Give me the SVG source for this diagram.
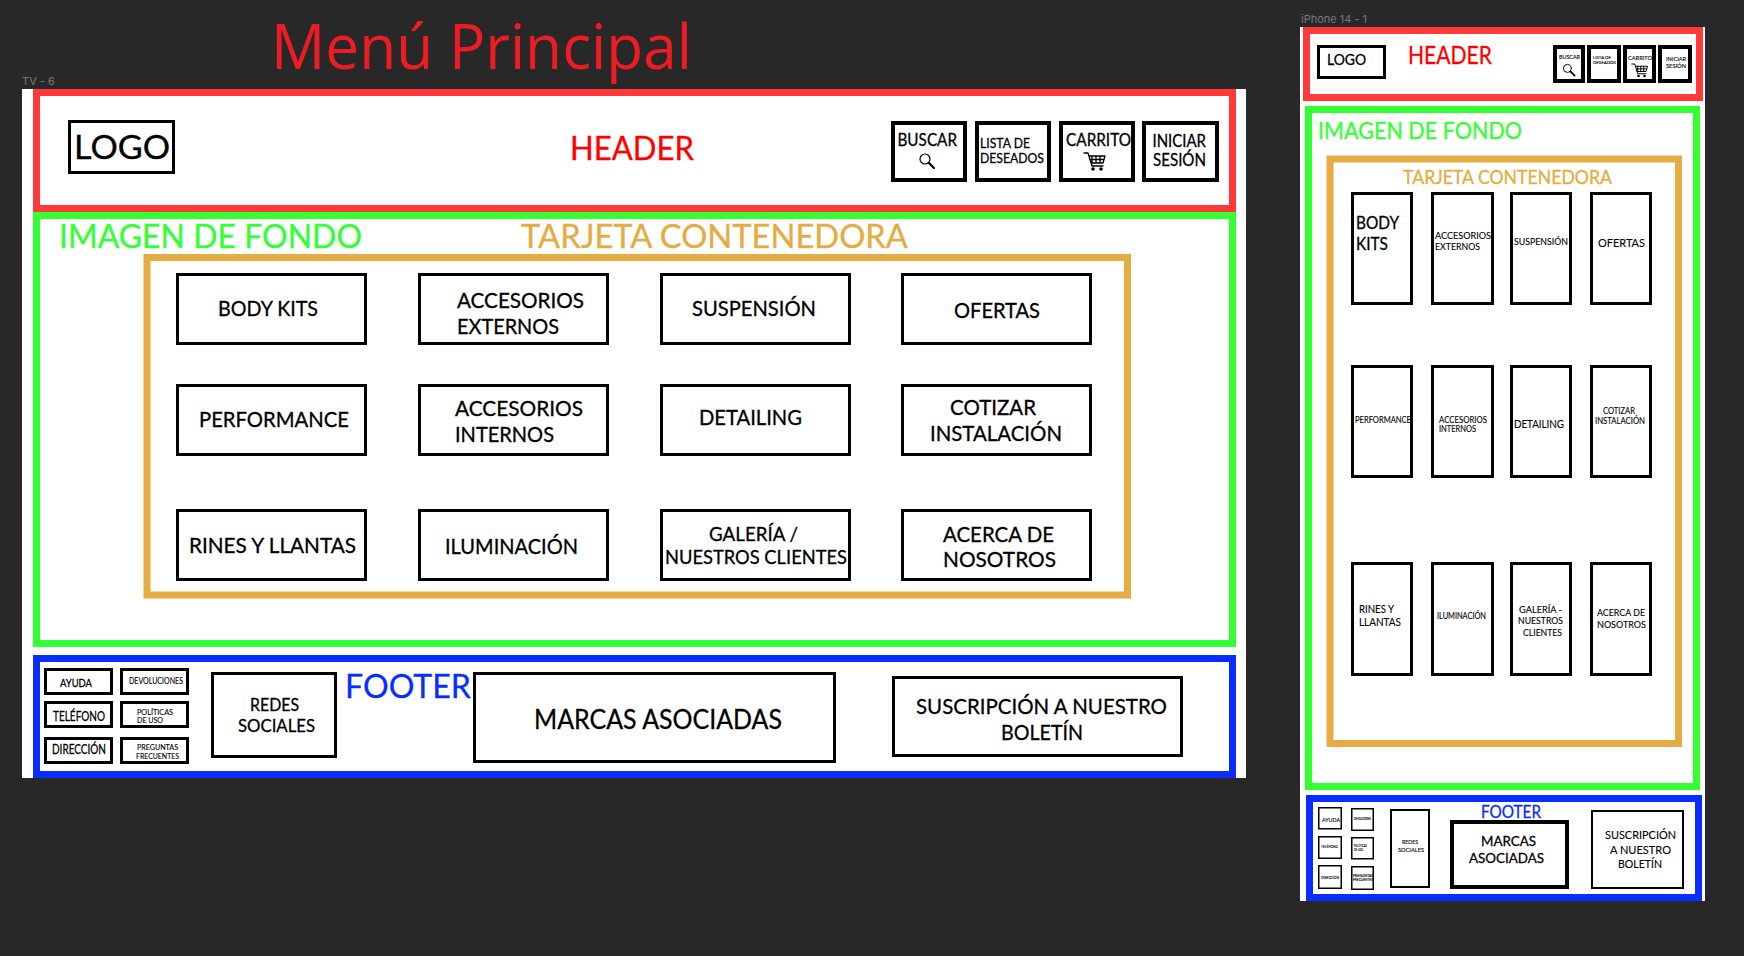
<svg xmlns="http://www.w3.org/2000/svg" width="1744" height="956" viewBox="0 0 1744 956">
<style>
text{font-family:"Lato","Liberation Sans",sans-serif;fill:#000;stroke:#000;stroke-width:.3}
.b{fill:#fff;stroke:#000;stroke-width:3}
.t{stroke-width:4}.n{stroke-width:2}.h{stroke-width:1.5}
.z{fill:none;stroke-width:7}
.red{stroke:#ff3939}.grn{stroke:#33ff33}.blu{stroke:#0a2dff}.gld{stroke:#e4ac43}
text.fr{fill:#ff0000;stroke:#ff0000}text.fg{fill:#33ff33;stroke:#33ff33}text.fb{fill:#0a2dff;stroke:#0a2dff}text.fo{fill:#e4ac43;stroke:#e4ac43}
text.s{stroke-width:.12}
.ic{fill:none;stroke:#000;stroke-linecap:round;stroke-linejoin:round}
text.cap{fill:#777;stroke:none;font-family:"Inter","Liberation Sans",sans-serif;font-size:11px}
text.ttl{font-family:"Open Sans","Liberation Sans",sans-serif;fill:#ed1c24;stroke:none}
</style>
<defs>
<g id="lens"><circle cx="-2" cy="-2" r="5" class="ic" stroke-width="1.2"/><line x1="2" y1="2" x2="7" y2="7" class="ic" stroke-width="2.2"/></g>
<g id="cart"><path class="ic" stroke-width="1.3" d="M-11-8H-7L-3 5H8M-6-5H10L8 2H-4M-3-5V2M1-5V2M5-5V2M-5-1.500H9"/><circle cx="-2" cy="8" r="1.800"/><circle cx="6" cy="8" r="1.800"/></g>
</defs>
<rect width="1744" height="956" fill="#282828"/>
<text id="title" class="ttl" x="271" y="69" font-size="62" textLength="421" lengthAdjust="spacingAndGlyphs">Menú Principal</text>
<text class="cap" x="22" y="85" textLength="33" lengthAdjust="spacingAndGlyphs">TV - 6</text>
<text class="cap" x="1301" y="23" textLength="66" lengthAdjust="spacingAndGlyphs">iPhone 14 - 1</text>

<g id="tv">
<rect x="22" y="89" width="1224" height="689" fill="#fff"/>
<g id="tv-header"><rect class="z red" x="36.500" y="92.500" width="1196" height="116"/>
<text class="fr" x="570" y="160" font-size="33" textLength="124" lengthAdjust="spacingAndGlyphs">HEADER</text></g>
<g id="tv-logo"><rect class="b" x="69.500" y="121.500" width="104" height="51"/><text x="74" y="159" font-size="32" textLength="96" lengthAdjust="spacingAndGlyphs">LOGO</text></g>
<g id="tv-buscar"><rect class="b t" x="893" y="123" width="72" height="57"/><text x="897.500" y="146" font-size="17" textLength="59.500" lengthAdjust="spacingAndGlyphs">BUSCAR</text><use href="#lens" x="927" y="161"/></g>
<g id="tv-lista"><rect class="b t" x="977" y="123" width="72" height="57"/><text x="980" y="148" font-size="14" textLength="50" lengthAdjust="spacingAndGlyphs">LISTA DE</text><text x="980" y="163" font-size="14" textLength="64" lengthAdjust="spacingAndGlyphs">DESEADOS</text></g>
<g id="tv-carrito"><rect class="b t" x="1061" y="123" width="72" height="57"/><text x="1066" y="146" font-size="17" textLength="65" lengthAdjust="spacingAndGlyphs">CARRITO</text><use href="#cart" x="1095" y="161"/></g>
<g id="tv-iniciar"><rect class="b t" x="1144" y="123" width="73" height="57"/><text x="1152.500" y="147" font-size="18" textLength="53.500" lengthAdjust="spacingAndGlyphs">INICIAR</text><text x="1153" y="166" font-size="18" textLength="53" lengthAdjust="spacingAndGlyphs">SESIÓN</text></g>

<g id="tv-fondo"><rect class="z grn" x="36.500" y="215.500" width="1196" height="428"/>
<text class="fg" x="59" y="248" font-size="32" textLength="303" lengthAdjust="spacingAndGlyphs">IMAGEN DE FONDO</text></g>
<g id="tv-tarjeta"><rect class="z gld" x="147" y="257.500" width="980.500" height="337.500"/>
<text class="fo" x="521" y="248" font-size="32" textLength="387" lengthAdjust="spacingAndGlyphs">TARJETA CONTENEDORA</text></g>

<g id="tv-body"><rect class="b" x="177.500" y="274.500" width="188" height="69"/><text x="218" y="316" font-size="21" textLength="100" lengthAdjust="spacingAndGlyphs">BODY KITS</text></g>
<g id="tv-acc-ext"><rect class="b" x="419.500" y="274.500" width="188" height="69"/><text x="457" y="308" font-size="21" textLength="127" lengthAdjust="spacingAndGlyphs">ACCESORIOS</text><text x="457" y="334" font-size="21" textLength="102" lengthAdjust="spacingAndGlyphs">EXTERNOS</text></g>
<g id="tv-susp"><rect class="b" x="661.500" y="274.500" width="188" height="69"/><text x="692" y="316" font-size="21" textLength="124" lengthAdjust="spacingAndGlyphs">SUSPENSIÓN</text></g>
<g id="tv-ofertas"><rect class="b" x="902.500" y="274.500" width="188" height="69"/><text x="954" y="318" font-size="21" textLength="86" lengthAdjust="spacingAndGlyphs">OFERTAS</text></g>

<g id="tv-perf"><rect class="b" x="177.500" y="385.500" width="188" height="69"/><text x="199" y="427" font-size="21" textLength="150" lengthAdjust="spacingAndGlyphs">PERFORMANCE</text></g>
<g id="tv-acc-int"><rect class="b" x="419.500" y="385.500" width="188" height="69"/><text x="455" y="416" font-size="21" textLength="128" lengthAdjust="spacingAndGlyphs">ACCESORIOS</text><text x="455" y="442" font-size="21" textLength="99" lengthAdjust="spacingAndGlyphs">INTERNOS</text></g>
<g id="tv-detail"><rect class="b" x="661.500" y="385.500" width="188" height="69"/><text x="699" y="425" font-size="21" textLength="103" lengthAdjust="spacingAndGlyphs">DETAILING</text></g>
<g id="tv-cotizar"><rect class="b" x="902.500" y="385.500" width="188" height="69"/><text x="950" y="415" font-size="21" textLength="86" lengthAdjust="spacingAndGlyphs">COTIZAR</text><text x="930" y="441" font-size="21" textLength="132" lengthAdjust="spacingAndGlyphs">INSTALACIÓN</text></g>

<g id="tv-rines"><rect class="b" x="177.500" y="510.500" width="188" height="69"/><text x="189" y="553" font-size="21" textLength="167" lengthAdjust="spacingAndGlyphs">RINES Y LLANTAS</text></g>
<g id="tv-ilum"><rect class="b" x="419.500" y="510.500" width="188" height="69"/><text x="445" y="554" font-size="21" textLength="133" lengthAdjust="spacingAndGlyphs">ILUMINACIÓN</text></g>
<g id="tv-galeria"><rect class="b" x="661.500" y="510.500" width="188" height="69"/><text x="709" y="541" font-size="20" textLength="89" lengthAdjust="spacingAndGlyphs">GALERÍA /</text><text x="665" y="564" font-size="20" textLength="182" lengthAdjust="spacingAndGlyphs">NUESTROS CLIENTES</text></g>
<g id="tv-acerca"><rect class="b" x="902.500" y="510.500" width="188" height="69"/><text x="943" y="542" font-size="21" textLength="111" lengthAdjust="spacingAndGlyphs">ACERCA DE</text><text x="943" y="567" font-size="21" textLength="113" lengthAdjust="spacingAndGlyphs">NOSOTROS</text></g>

<g id="tv-footer"><rect class="z blu" x="36.500" y="658.500" width="1196" height="116"/>
<text class="fb" x="345" y="698" font-size="33" textLength="126" lengthAdjust="spacingAndGlyphs">FOOTER</text></g>
<g id="tv-ayuda"><rect class="b" x="45.500" y="669.500" width="66" height="24"/><text x="60" y="687" font-size="12" textLength="32" lengthAdjust="spacingAndGlyphs">AYUDA</text></g>
<g id="tv-devol"><rect class="b" x="121.500" y="669.500" width="66" height="24"/><text class="s" x="129" y="684" font-size="8.500" textLength="54" lengthAdjust="spacingAndGlyphs">DEVOLUCIONES</text></g>
<g id="tv-tel"><rect class="b" x="45.500" y="702.500" width="66" height="24"/><text x="53" y="721" font-size="13" textLength="52" lengthAdjust="spacingAndGlyphs">TELÉFONO</text></g>
<g id="tv-pol"><rect class="b" x="121.500" y="702.500" width="66" height="24"/><text class="s" x="137" y="715" font-size="8" textLength="36" lengthAdjust="spacingAndGlyphs">POLÍTICAS</text><text class="s" x="137" y="723" font-size="8" textLength="26" lengthAdjust="spacingAndGlyphs">DE USO</text></g>
<g id="tv-dir"><rect class="b" x="45.500" y="738.500" width="66" height="24"/><text x="52" y="754" font-size="13" textLength="54" lengthAdjust="spacingAndGlyphs">DIRECCIÓN</text></g>
<g id="tv-preg"><rect class="b" x="121.500" y="738.500" width="66" height="24"/><text class="s" x="137" y="750" font-size="8" textLength="41" lengthAdjust="spacingAndGlyphs">PREGUNTAS</text><text class="s" x="136" y="759" font-size="8" textLength="43" lengthAdjust="spacingAndGlyphs">FRECUENTES</text></g>
<g id="tv-redes"><rect class="b" x="212.500" y="673.500" width="123" height="83"/><text x="250" y="711" font-size="17" textLength="49" lengthAdjust="spacingAndGlyphs">REDES</text><text x="238" y="732" font-size="17" textLength="77" lengthAdjust="spacingAndGlyphs">SOCIALES</text></g>
<g id="tv-marcas"><rect class="b" x="474.500" y="673.500" width="360" height="88"/><text x="534" y="729" font-size="27" textLength="248" lengthAdjust="spacingAndGlyphs">MARCAS ASOCIADAS</text></g>
<g id="tv-susc"><rect class="b" x="893.500" y="677.500" width="288" height="78"/><text x="916" y="714" font-size="22" textLength="251" lengthAdjust="spacingAndGlyphs">SUSCRIPCIÓN A NUESTRO</text><text x="1001" y="740" font-size="22" textLength="82" lengthAdjust="spacingAndGlyphs">BOLETÍN</text></g>
</g>

<g id="phone">
<rect x="1300" y="27" width="405" height="874" fill="#fff"/>
<g id="ph-header"><rect class="z red" x="1306.500" y="30.500" width="393" height="67"/>
<text class="fr" x="1408" y="64" font-size="25" textLength="84" lengthAdjust="spacingAndGlyphs">HEADER</text></g>
<g id="ph-logo"><rect class="b" x="1318.500" y="46.500" width="66" height="31"/><text x="1327" y="65" font-size="16" textLength="39" lengthAdjust="spacingAndGlyphs">LOGO</text></g>
<g id="ph-buscar"><rect class="b t" x="1555" y="47" width="28" height="34"/><text class="s" x="1559" y="59" font-size="6" textLength="21" lengthAdjust="spacingAndGlyphs">BUSCAR</text><use href="#lens" transform="translate(1569 70) scale(.8)"/></g>
<g id="ph-lista"><rect class="b t" x="1589" y="47" width="30" height="34"/><text class="s" x="1593" y="58.700" font-size="4.500" textLength="18" lengthAdjust="spacingAndGlyphs">LISTA DE</text><text class="s" x="1593" y="64" font-size="4.500" textLength="23" lengthAdjust="spacingAndGlyphs">DESEADOS</text></g>
<g id="ph-carrito"><rect class="b t" x="1625" y="47" width="29" height="34"/><text class="s" x="1628" y="60" font-size="6.500" textLength="24" lengthAdjust="spacingAndGlyphs">CARRITO</text><use href="#cart" transform="translate(1640 70) scale(.75)"/></g>
<g id="ph-iniciar"><rect class="b t" x="1660" y="47" width="30" height="34"/><text class="s" x="1666" y="61" font-size="6" textLength="20" lengthAdjust="spacingAndGlyphs">INICIAR</text><text class="s" x="1666" y="68" font-size="6" textLength="20" lengthAdjust="spacingAndGlyphs">SESIÓN</text></g>

<g id="ph-fondo"><rect class="z grn" x="1308.500" y="109.500" width="388" height="677"/>
<text class="fg" x="1318" y="139" font-size="24" textLength="204" lengthAdjust="spacingAndGlyphs">IMAGEN DE FONDO</text></g>
<g id="ph-tarjeta"><rect class="z gld" x="1330" y="159" width="348.500" height="584.500"/>
<text class="fo" x="1403" y="184" font-size="19" textLength="209" lengthAdjust="spacingAndGlyphs">TARJETA CONTENEDORA</text></g>

<g id="ph-body"><rect class="b" x="1352.500" y="193.500" width="59" height="110"/><text x="1356" y="229" font-size="18" textLength="43" lengthAdjust="spacingAndGlyphs">BODY</text><text x="1356" y="250" font-size="18" textLength="32" lengthAdjust="spacingAndGlyphs">KITS</text></g>
<g id="ph-acc-ext"><rect class="b" x="1432.500" y="193.500" width="60" height="110"/><text class="s" x="1435" y="239" font-size="9.500" textLength="56" lengthAdjust="spacingAndGlyphs">ACCESORIOS</text><text class="s" x="1435" y="250" font-size="9.500" textLength="45" lengthAdjust="spacingAndGlyphs">EXTERNOS</text></g>
<g id="ph-susp"><rect class="b" x="1511.500" y="193.500" width="59" height="110"/><text class="s" x="1514" y="245" font-size="9.500" textLength="54" lengthAdjust="spacingAndGlyphs">SUSPENSIÓN</text></g>
<g id="ph-ofertas"><rect class="b" x="1591.500" y="193.500" width="59" height="110"/><text class="s" x="1598" y="247" font-size="12" textLength="47" lengthAdjust="spacingAndGlyphs">OFERTAS</text></g>

<g id="ph-perf"><rect class="b" x="1352.500" y="366.500" width="59" height="110"/><text class="s" x="1355" y="423" font-size="9" textLength="56" lengthAdjust="spacingAndGlyphs">PERFORMANCE</text></g>
<g id="ph-acc-int"><rect class="b" x="1432.500" y="366.500" width="60" height="110"/><text class="s" x="1439" y="422.500" font-size="8.500" textLength="48" lengthAdjust="spacingAndGlyphs">ACCESORIOS</text><text class="s" x="1439" y="431.500" font-size="8.500" textLength="37" lengthAdjust="spacingAndGlyphs">INTERNOS</text></g>
<g id="ph-detail"><rect class="b" x="1511.500" y="366.500" width="59" height="110"/><text class="s" x="1514" y="428" font-size="12" textLength="50" lengthAdjust="spacingAndGlyphs">DETAILING</text></g>
<g id="ph-cotizar"><rect class="b" x="1591.500" y="366.500" width="59" height="110"/><text class="s" x="1603" y="414" font-size="8.500" textLength="32" lengthAdjust="spacingAndGlyphs">COTIZAR</text><text class="s" x="1595" y="423.500" font-size="8.500" textLength="50" lengthAdjust="spacingAndGlyphs">INSTALACIÓN</text></g>

<g id="ph-rines"><rect class="b" x="1352.500" y="563.500" width="59" height="111"/><text class="s" x="1359" y="613" font-size="11" textLength="35" lengthAdjust="spacingAndGlyphs">RINES Y</text><text class="s" x="1359" y="626" font-size="11" textLength="42" lengthAdjust="spacingAndGlyphs">LLANTAS</text></g>
<g id="ph-ilum"><rect class="b" x="1432.500" y="563.500" width="60" height="111"/><text class="s" x="1437" y="619" font-size="8.500" textLength="49" lengthAdjust="spacingAndGlyphs">ILUMINACIÓN</text></g>
<g id="ph-galeria"><rect class="b" x="1511.500" y="563.500" width="59" height="111"/><text class="s" x="1519" y="613" font-size="9.500" textLength="43" lengthAdjust="spacingAndGlyphs">GALERÍA -</text><text class="s" x="1518" y="624" font-size="9.500" textLength="45" lengthAdjust="spacingAndGlyphs">NUESTROS</text><text class="s" x="1523" y="636" font-size="9.500" textLength="39" lengthAdjust="spacingAndGlyphs">CLIENTES</text></g>
<g id="ph-acerca"><rect class="b" x="1591.500" y="563.500" width="59" height="111"/><text class="s" x="1597" y="616" font-size="9.500" textLength="48" lengthAdjust="spacingAndGlyphs">ACERCA DE</text><text class="s" x="1597" y="628" font-size="9.500" textLength="49" lengthAdjust="spacingAndGlyphs">NOSOTROS</text></g>

<g id="ph-footer"><rect class="z blu" x="1309.500" y="798.500" width="389" height="99"/>
<text class="fb" x="1481" y="818" font-size="18" textLength="60" lengthAdjust="spacingAndGlyphs">FOOTER</text></g>
<g id="ph-ayuda"><rect class="b h" x="1318.750" y="807.750" width="22.500" height="21"/><text class="s" x="1322" y="822" font-size="6" textLength="18" lengthAdjust="spacingAndGlyphs">AYUDA</text></g>
<g id="ph-devol"><rect class="b h" x="1351.750" y="808.750" width="21.500" height="21.500"/><text class="s" x="1354" y="820" font-size="2.800" textLength="17" lengthAdjust="spacingAndGlyphs">DEVOLUCIONES</text></g>
<g id="ph-tel"><rect class="b h" x="1318.750" y="836.750" width="22.500" height="21.500"/><text class="s" x="1321" y="848" font-size="4" textLength="17" lengthAdjust="spacingAndGlyphs">TELÉFONO</text></g>
<g id="ph-pol"><rect class="b h" x="1351.750" y="837.750" width="21.500" height="21"/><text class="s" x="1354" y="846.500" font-size="4" textLength="13" lengthAdjust="spacingAndGlyphs">POLÍTICAS</text><text class="s" x="1354" y="851" font-size="4" textLength="9" lengthAdjust="spacingAndGlyphs">DE USO</text></g>
<g id="ph-dir"><rect class="b h" x="1318.750" y="865.750" width="22.500" height="22.500"/><text class="s" x="1321" y="879" font-size="4" textLength="18" lengthAdjust="spacingAndGlyphs">DIRECCIÓN</text></g>
<g id="ph-preg"><rect class="b h" x="1351.750" y="866.750" width="21.500" height="22.500"/><text class="s" x="1353" y="877" font-size="3.500" textLength="20" lengthAdjust="spacingAndGlyphs">PREGUNTAS</text><text class="s" x="1353" y="881" font-size="3.500" textLength="20" lengthAdjust="spacingAndGlyphs">FRECUENTES</text></g>
<g id="ph-redes"><rect class="b n" x="1391" y="810" width="38" height="77"/><text class="s" x="1402" y="844" font-size="6" textLength="16" lengthAdjust="spacingAndGlyphs">REDES</text><text class="s" x="1398" y="852" font-size="6" textLength="26" lengthAdjust="spacingAndGlyphs">SOCIALES</text></g>
<g id="ph-marcas"><rect class="b t" x="1452" y="822" width="115" height="65"/><text x="1481" y="846" font-size="14" textLength="55" lengthAdjust="spacingAndGlyphs">MARCAS</text><text x="1469" y="862.500" font-size="14" textLength="75" lengthAdjust="spacingAndGlyphs">ASOCIADAS</text></g>
<g id="ph-susc"><rect class="b n" x="1592" y="811" width="91" height="77"/><text class="s" x="1605" y="839" font-size="12" textLength="71" lengthAdjust="spacingAndGlyphs">SUSCRIPCIÓN</text><text class="s" x="1610" y="854" font-size="12" textLength="61" lengthAdjust="spacingAndGlyphs">A NUESTRO</text><text class="s" x="1618" y="868" font-size="12" textLength="44" lengthAdjust="spacingAndGlyphs">BOLETÍN</text></g>
</g>
</svg>
